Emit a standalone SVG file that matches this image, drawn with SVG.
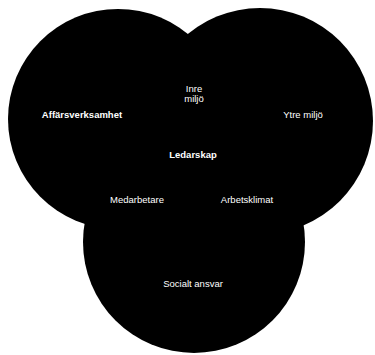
<svg xmlns="http://www.w3.org/2000/svg" width="375" height="355" viewBox="0 0 375 355">
<style>
.c{fill:#000;}
.t{fill:#fff;font-family:"Liberation Sans",Arial,sans-serif;font-size:9.5px;text-anchor:middle;}
.b{font-weight:bold;}
</style>
<rect width="375" height="355" fill="#fff"/>
<g id="affarsverksamhet"><circle class="c" cx="118" cy="119" r="110"/></g>
<g id="ytre-miljo"><circle class="c" cx="260" cy="121" r="113"/></g>
<g id="socialt-ansvar"><circle class="c" cx="194" cy="242" r="111"/></g>
<g id="labels">
<text class="t b" x="82" y="118">Affärsverksamhet</text>
<text class="t" x="194" y="92">Inre</text>
<text class="t" x="194" y="102">miljö</text>
<text class="t" x="303" y="118">Ytre miljö</text>
<text class="t b" x="193" y="158">Ledarskap</text>
<text class="t" x="137" y="203">Medarbetare</text>
<text class="t" x="247" y="203">Arbetsklimat</text>
<text class="t" x="193" y="287">Socialt ansvar</text>
</g>
</svg>
